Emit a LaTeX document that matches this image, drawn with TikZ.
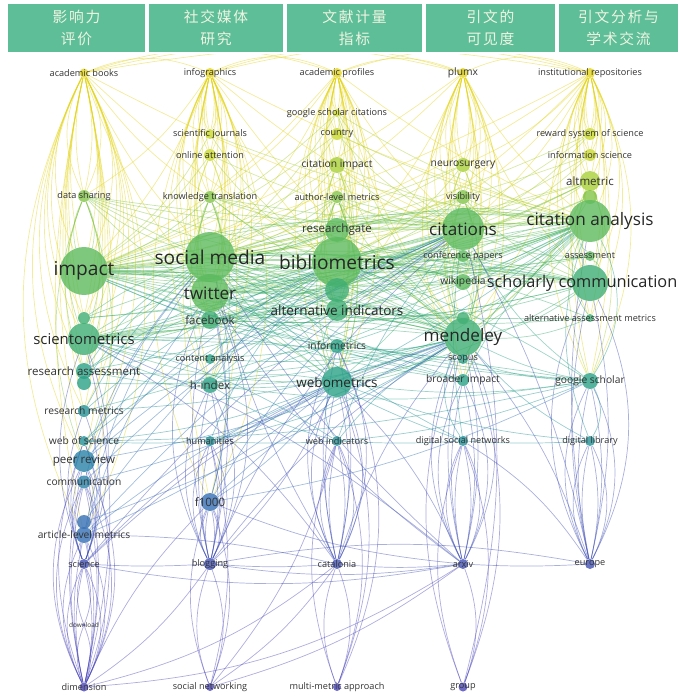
\documentclass[tikz,border=0pt]{standalone}
\usepackage{fontspec}
\setmainfont{Open Sans}
\newfontfamily\cjk[LetterSpace=12]{Noto Sans CJK SC}
\usetikzlibrary{backgrounds}

\definecolor{cA}{HTML}{E3D41D}
\definecolor{cB}{HTML}{C9D82B}
\definecolor{cC}{HTML}{A9CF37}
\definecolor{cD}{HTML}{82C447}
\definecolor{cE}{HTML}{5CBA5D}
\definecolor{cF}{HTML}{3FAE73}
\definecolor{cG}{HTML}{29A184}
\definecolor{cH}{HTML}{219196}
\definecolor{cI}{HTML}{2882A8}
\definecolor{cJ}{HTML}{356FB5}
\definecolor{cK}{HTML}{4150B4}
\definecolor{cL}{HTML}{4A46B8}
\definecolor{headgreen}{HTML}{5DBE98}
\definecolor{headtext}{HTML}{EEF4E2}

\begin{document}
\begin{tikzpicture}[
    x=0.025cm, y=-0.025cm,
    head/.style={rectangle, fill=headgreen, draw=white, line width=0.8pt, minimum height=35.6pt, inner sep=0pt, text=headtext, align=center, font=\cjk\fontsize{10.5}{16}\selectfont},
    kw/.style={circle, inner sep=0pt, fill opacity=0.8},
    edge/.style={line width=0.5pt, draw opacity=0.45},
    lt/.style={inner sep=0pt, text=black!80, font=\fontsize{4.6}{5}\selectfont},
    ls/.style={inner sep=0pt, text=black!80, font=\fontsize{6.5}{8}\selectfont},
    lm/.style={inner sep=0pt, text=black!80, font=\fontsize{7.3}{9}\selectfont},
    ll/.style={inner sep=0pt, text=black!80, font=\fontsize{8.2}{10}\selectfont},
    lx/.style={inner sep=0pt, text=black!85, font=\fontsize{9.6}{11}\selectfont},
    lxs/.style={inner sep=0pt, text=black!85, font=\fontsize{10.6}{12}\selectfont},
    lxx/.style={inner sep=0pt, text=black!85, font=\fontsize{12.2}{14}\selectfont},
    lxxx/.style={inner sep=0pt, text=black!85, font=\fontsize{13.6}{16}\selectfont}
]
    \useasboundingbox (0,0) rectangle (679,697);

    % header
    \node[head, minimum width=98.9pt] (h1) at (76.5,28) {影响力\\评价};
    \node[head, minimum width=96.7pt] (h2) at (216,28) {社交媒体\\研究};
    \node[head, minimum width=97.4pt] (h3) at (354.5,28) {文献计量\\指标};
    \node[head, minimum width=93.2pt] (h4) at (490.5,28) {引文的\\可见度};
    \node[head, minimum width=86.1pt] (h5) at (618.5,28) {引文分析与\\学术交流};

    % keyword circles
    \foreach \n/\x/\y/\d/\c in {
        abk/84/73/9/cA, dsh/84/196/12/cD, imp/84/271/48/cE, ua/84/318/12/cF, sci/84/339/32/cF,
        ras/84/371/16/cG, ub/84/383/14/cG, rme/84/411/12/cH, wos/84/441/10/cH, per/84/461/22/cI,
        com/84/482/13/cI, uc/84/522/14/cJ, alm/84/535/16/cJ, scn/84/564/10/cK, dwn/84/625/3/cL, dim/84/687/9/cL,
        inf/210/73/10/cA, sjo/210/134/10/cB, oat/210/155/12/cB, ktr/210/197/12/cD, smd/210/257/50/cE,
        twi/210/293/38/cE, fbk/210/320/18/cF, can/210/359/10/cG, hin/210/385/16/cG, hum/210/441/10/cH,
        fk/210/502/18/cJ, blg/210/564/12/cK, snw/210/687/8/cL,
        apr/337/73/10/cA, gsc/337/113/8/cB, cty/337/134/12/cB, cim/337/165/16/cC, aut/337/197/12/cD,
        rgt/337/230/24/cE, bib/337/262/50/cE, uf/337/290/24/cF, ain/337/310/22/cF, ifm/337/346/14/cG,
        web/337/382/30/cG, win/337/441/10/cH, cat/337/564/10/cK, mma/337/687/8/cL,
        plx/463/73/10/cA, neu/463/165/14/cC, vis/463/197/14/cD, cit/463/229/42/cE, cpp/463/256/12/cE,
        wik/463/282/16/cE, ud/463/318/12/cF, men/463/337/38/cF, sco/463/359/10/cG, bri/463/380/12/cG,
        dsn/463/441/10/cH, arx/463/564/10/cK, grp/463/687/9/cL,
        ire/590/73/10/cA, rss/590/134/12/cB, isc/590/155/12/cB, alt/590/181/20/cC, ue/590/197/14/cD,
        cia/590/221/42/cE, ass/590/256/10/cE, scc/590/283/36/cF, aam/590/318/8/cF, gsh/590/381/16/cG,
        dlb/590/441/10/cH, eur/590/564/10/cK}
        \node[kw, fill=\c, minimum size=\d*0.711pt] (\n) at (\x,\y) {};

    \begin{scope}[on background layer]
        % fans down from the top row and up from the lower rows
        \foreach \s/\c/\ts in {
            abk/cA/{dsh,imp,ua,sci,ras,rme,per,alm},
            inf/cA/{sjo,oat,ktr,smd,twi,fbk,hin,fk},
            apr/cA/{gsc,cty,cim,aut,rgt,bib,ain,web},
            plx/cA/{neu,vis,cit,wik,men,bri},
            ire/cA/{rss,isc,alt,cia,scc,aam,gsh},
            dim/cL/{scn,alm,per,com},
            blg/cK/{fk,hum,hin,twi},
            cat/cK/{win,web,ifm},
            arx/cK/{dsn,bri,men},
            eur/cK/{dlb,gsh,scc}}
            \foreach \t in \ts
                \foreach \k in {-26,-12,12,26}
                    \draw[edge, \c] (\s) to[bend left=\k] (\t);
        \foreach \s/\c/\ts in {
            dsh/cD/{imp,sci,ras,per}, ktr/cD/{smd,twi,fbk,hin}, aut/cD/{rgt,bib,ain,web},
            vis/cD/{cit,wik,men}, cim/cC/{bib,ain,rgt}, alt/cC/{cia,scc,gsh},
            oat/cB/{smd,twi}, neu/cC/{cit,men}, scn/cK/{alm,per,com,wos,rme,sci},
            snw/cL/{blg,fk}, mma/cL/{cat,win}, grp/cL/{dsn,men}, dim/cL/{wos,dwn}}
            \foreach \t in \ts
                \foreach \k in {-20,20}
                    \draw[edge, \c] (\s) to[bend left=\k] (\t);

        % yellow links
        \foreach \a/\b/\k in {abk/inf/22, abk/apr/18, abk/plx/14, inf/apr/24, inf/plx/18, inf/ire/14,
            apr/plx/22, apr/ire/18, plx/ire/24, abk/ire/10, abk/ktr/-10, abk/smd/-8, abk/bib/-6,
            abk/cit/-5, inf/imp/10, inf/bib/-10, inf/cit/-8, inf/cia/-6, inf/dsh/12, apr/smd/8,
            apr/imp/10, apr/cit/-8, apr/cia/-6, apr/ktr/10, plx/bib/8, plx/smd/8, plx/imp/8,
            plx/cia/-10, plx/ain/10, ire/cit/10, ire/bib/8, ire/smd/8, ire/imp/6, ire/men/10,
            ire/vis/10, abk/twi/-10, inf/men/-8, apr/men/-10, plx/scc/-12, ire/neu/12}
            \draw[edge, cA] (\a) to[bend left=\k] (\b);
        \foreach \a/\b/\k in {gsc/cia/-8, gsc/smd/8, gsc/imp/10, gsc/cit/-10, cty/cit/-10, cty/smd/10,
            cty/imp/8, cim/imp/10, cim/cit/-12, cim/cia/-10, cim/smd/12, sjo/cia/-8, sjo/bib/-10,
            sjo/imp/12, oat/bib/-10, oat/cit/-8, oat/imp/10, rss/cit/10, rss/bib/8, rss/smd/6,
            isc/bib/8, isc/cit/12, isc/imp/6, neu/smd/8, neu/imp/6, neu/bib/12, neu/cia/-14,
            vis/smd/8, vis/imp/6, vis/cia/-14, alt/smd/6, alt/imp/5, alt/bib/8, alt/cit/12,
            alt/men/14, cim/men/-10, gsc/men/-8, cty/cia/-6, cim/web/10, gsc/web/12}
            \draw[edge, cC] (\a) to[bend left=\k] (\b);

        % green links
        \foreach \a/\b/\k in {ktr/bib/-10, ktr/cit/-8, ktr/cia/-6, ktr/imp/10, ktr/men/-8, dsh/smd/-10,
            dsh/bib/-8, dsh/cit/-6, dsh/cia/-5, dsh/twi/-8, aut/smd/10, aut/imp/8, aut/cit/-12,
            aut/cia/-10, aut/men/-10, aut/twi/10, vis/bib/10, vis/twi/8, vis/scc/-12, ue/cit/10,
            ue/bib/8, ue/men/10, ktr/scc/-6, dsh/men/-8, dsh/scc/-6, vis/men/20, aut/web/20,
            alt/twi/10, alt/sci/8}
            \draw[edge, cD] (\a) to[bend left=\k] (\b);
        \foreach \a/\b/\k in {imp/smd/-12, imp/bib/-10, imp/cit/-8, imp/cia/-6, imp/men/8, imp/scc/6,
            imp/twi/10, imp/ain/10, imp/web/12, imp/rgt/-10, imp/fbk/8, smd/bib/-14, smd/cit/-10,
            smd/cia/-8, smd/men/10, smd/scc/8, smd/rgt/-10, smd/ain/12, smd/web/14, smd/sci/12,
            smd/wik/10, bib/cit/-14, bib/cia/-10, bib/men/12, bib/scc/10, bib/sci/14, bib/twi/12,
            bib/wik/10, cit/cia/-14, cit/scc/12, cit/sci/12, cit/twi/10, cit/ain/12, cit/rgt/-14,
            cit/men/16, cit/men/-16, cia/scc/18, cia/scc/-18, cia/men/12, cia/twi/10, cia/sci/8,
            cia/ain/10, cia/web/12, cia/rgt/-8, rgt/twi/10, rgt/men/10, cpp/smd/8, cpp/imp/6,
            cpp/bib/-12, wik/smd/10, wik/imp/8, wik/cia/-14, ass/smd/8, ass/cit/12, ass/imp/6,
            ass/bib/10, imp/cia/10, imp/cit/12, imp/bib/8, smd/cia/12, smd/cit/8, bib/cia/6,
            twi/cia/-8, twi/cit/-6, rgt/cit/12, rgt/cia/12, rgt/imp/6, rgt/smd/8, wik/bib/-10,
            wik/men/25, cpp/cia/10, cpp/cit/30, ass/scc/30, ass/cia/30}
            \draw[edge, cE] (\a) to[bend left=\k] (\b);
        \foreach \a/\b/\k in {twi/men/10, twi/scc/8, twi/fbk/30, twi/ain/-10, twi/sci/-12, twi/web/12,
            men/scc/-14, men/sci/-10, men/ain/-14, men/web/12, men/fbk/-10, men/aam/-12, sci/web/-10,
            sci/ain/-8, sci/scc/8, sci/fbk/-12, scc/ain/12, scc/web/10, scc/fbk/8, ain/web/-30,
            fbk/ain/10, fbk/scc/-8, ua/smd/8, ua/bib/8, ud/smd/8, ud/imp/8, aam/imp/6, aam/cia/30,
            aam/bib/-8, aam/twi/8, sci/cia/-6, sci/cit/-8, sci/bib/-6, sci/men/6, ain/cia/-8,
            ain/men/20, ain/smd/-8, ain/imp/-6, web/cit/-10, web/smd/8, web/men/-16, scc/imp/-8,
            scc/smd/-6, scc/twi/-10, men/imp/-10, men/smd/-8, men/bib/-10, fbk/men/10, fbk/cit/-8,
            fbk/bib/-10, fbk/cia/-6, ua/cia/-6, ua/cit/-8, ud/cia/-10, ud/bib/10, uf/cia/8, uf/imp/-8}
            \draw[edge, cF] (\a) to[bend left=\k] (\b);

        % teal links
        \foreach \a/\b/\k in {sci/hin/-12, sci/ifm/-10, web/ifm/30, web/gsh/-8, web/hin/-12,
            hin/men/-10, hin/bib/12, hin/cit/10, hin/gsh/-8, can/sci/10, can/men/-8, can/bib/12,
            ras/bib/10, ras/smd/12, ras/cit/8, ras/men/-8, sco/bib/-10, sco/cia/10, sco/gsh/-8,
            sco/imp/8, bri/smd/8, bri/imp/8, bri/cia/10, gsh/cit/12, gsh/cia/-30, gsh/men/8,
            gsh/imp/8, ifm/men/-10, ifm/smd/-10, ub/smd/10, ub/men/-8, ras/web/-8, ras/cia/-6,
            rme/cia/-6, hin/cia/-6, can/cit/-8, ifm/cia/-8, ifm/imp/8, sco/twi/10, bri/twi/8,
            bri/sci/-8, gsh/twi/8, gsh/bib/-6, gsh/sci/-4}
            \draw[edge, cG] (\a) to[bend left=\k] (\b);
        \foreach \a/\b/\k in {rme/smd/10, rme/men/-8, rme/bib/10, wos/bib/10, wos/gsh/-6, wos/cit/8,
            wos/web/-8, hum/bib/12, hum/men/-10, hum/web/-8, hum/cia/-6, win/web/30, win/sci/-10,
            win/men/10, win/gsh/-8, win/hin/8, win/cit/10, dsn/men/30, dsn/twi/10, dsn/smd/8,
            dsn/cit/8, dsn/dlb/-3, dsn/win/3, dlb/gsh/-30, dlb/cia/20, dlb/men/10, dlb/web/8,
            hum/win/-3, wos/hum/-3}
            \draw[edge, cH] (\a) to[bend left=\k] (\b);

        % blue links
        \foreach \a/\b/\k in {per/smd/10, per/men/-8, per/bib/10, per/cit/8, com/smd/12, com/cit/10,
            com/web/-8, fk/smd/-14, fk/men/10, fk/cit/12, fk/twi/-14, fk/web/-10, fk/gsh/-8,
            alm/smd/12, alm/men/10, alm/twi/10, alm/cit/8, alm/web/-8, uc/bib/8, uc/men/-6}
            \draw[edge, cJ] (\a) to[bend left=\k] (\b);
        \foreach \a/\b/\k in {scn/blg/-3, blg/cat/-4, cat/arx/-5, arx/eur/-3, blg/arx/-8, scn/arx/-10,
            scn/men/12, scn/cit/8, blg/men/10, blg/cit/12, arx/twi/10, arx/smd/8, arx/web/-10,
            arx/sci/-8, eur/dsn/-12, eur/cia/10, eur/men/-10, eur/cit/-8, cat/men/10, cat/smd/8,
            cat/sci/-12, cat/alm/-6, blg/web/-10, scn/web/10, arx/fk/8, eur/blg/-10}
            \draw[edge, cK] (\a) to[bend left=\k] (\b);
        \foreach \a/\b/\k in {dim/cat/-12, dim/arx/-14, dim/blg/-10, snw/arx/-10, snw/hum/-14,
            snw/win/-12, mma/web/-20, mma/ifm/-24, grp/arx/-20, dim/sci/-14,
            dwn/scn/20, dwn/scn/-20, dim/fk/10, snw/cat/-10, grp/cit/-14}
            \draw[edge, cL] (\a) to[bend left=\k] (\b);
    \end{scope}

    % keyword labels
    \foreach \n/\f/\t in {
        abk/ls/academic books, dsh/ls/data sharing, imp/lxxx/impact, sci/lxs/scientometrics,
        ras/ll/research assessment, rme/lm/research metrics, wos/lm/web of science, per/ll/peer review,
        com/lm/communication, alm/lm/article-level metrics, scn/ls/science, dwn/lt/download, dim/ls/dimension,
        inf/ls/infographics, sjo/ls/scientific journals, oat/ls/online attention, ktr/ls/knowledge translation,
        smd/lxxx/social media, twi/lxx/twitter, fbk/ll/facebook, can/ls/content analysis, hin/ll/h-index,
        hum/ls/humanities, fk/ll/f1000, blg/ls/blogging, snw/ls/social networking,
        apr/ls/academic profiles, gsc/ls/google scholar citations, cty/ls/country, cim/lm/citation impact,
        aut/ls/author-level metrics, rgt/ll/researchgate, bib/lxxx/bibliometrics, ain/lx/alternative indicators,
        ifm/lm/informetrics, web/lx/webometrics, win/ls/web indicators, cat/ls/catalonia,
        mma/ls/multi-metric approach,
        plx/lm/plumx, neu/lm/neurosurgery, vis/ls/visibility, cit/lxx/citations, cpp/ls/conference papers,
        wik/lm/wikipedia, men/lxx/mendeley, sco/ls/scopus, bri/lm/broader impact,
        dsn/ls/digital social networks, arx/ls/arxiv, grp/ls/group,
        ire/ls/institutional repositories, rss/ls/reward system of science, isc/ls/information science,
        alt/ll/altmetric, cia/lxx/citation analysis, ass/ls/assessment,
        aam/ls/alternative assessment metrics, gsh/lm/google scholar, dlb/ls/digital library, eur/ls/europe}
        \node[\f] (\n-t) at (\n) {\t};
    \node[lxx, font=\fontsize{11.6}{14}\selectfont, anchor=east] (scc-t) at ([xshift=-1pt]679,283) {scholarly communication};
\end{tikzpicture}
\end{document}
